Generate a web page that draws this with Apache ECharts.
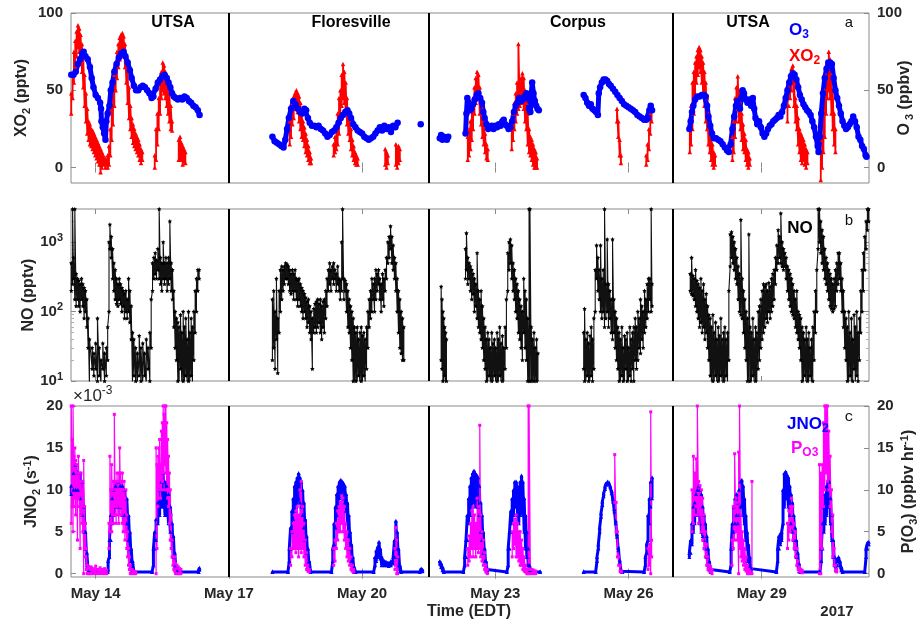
<!DOCTYPE html>
<html><head><meta charset="utf-8">
<script src="https://cdn.jsdelivr.net/npm/echarts@6/dist/echarts.min.js"></script>
<style>html,body{margin:0;padding:0;background:#fff}#c{width:922px;height:633px}</style>
</head><body><div id="c"></div><script>
// ---- axis / category info ----
const tickDays = [14, 17, 20, 23, 26, 29];
const tickLabels = ['May 14', 'May 17', 'May 20', 'May 23', 'May 26', 'May 29'];
const siteBounds = [17, 21.5, 27];
const xTicksA = [0, 50, 100];
const noMajor = [10, 100, 1000];
const noMinor = [20,30,40,50,60,70,80,90,200,300,400,500,600,700,800,900,2000,3000];
const jTicks = [0, 5, 10, 15, 20];

// ---- XO2 (pptv): [day, low, high] ----
const xo2 = [
 [[13.45,35,48],[13.48,45,60],[13.51,55,75],[13.54,65,82],[13.57,72,88],[13.60,78,92],[13.63,75,90],[13.66,70,86],[13.69,62,80],[13.72,52,72],[13.75,40,60],[13.78,30,48],[13.81,22,38],[13.84,18,30],[13.87,15,28],[13.90,14,25],[13.93,12,24],[13.96,10,22],[13.99,8,20],[14.02,6,18],[14.05,4,16],[14.08,2,14],[14.11,-3,12],[14.14,0,10],[14.17,2,8],[14.22,0,6],[14.27,0,8],[14.30,2,14],[14.33,8,25],[14.36,18,38],[14.39,28,50],[14.42,40,60],[14.45,50,68],[14.48,58,75],[14.51,65,80],[14.54,70,84],[14.57,74,86],[14.60,76,87],[14.63,72,85],[14.66,65,80],[14.69,55,72],[14.72,42,62],[14.75,32,52],[14.78,25,40],[14.81,20,32],[14.84,16,28],[14.87,14,25],[14.90,12,22],[14.93,10,20],[14.96,8,18],[14.99,5,15],[15.02,3,12],[15.05,5,10]],
 [[15.33,0,8],[15.36,5,25],[15.39,15,35],[15.42,25,45],[15.45,35,55],[15.48,45,62],[15.51,50,68],[15.54,48,66],[15.57,45,62],[15.60,40,60],[15.63,35,55],[15.66,30,48],[15.69,25,40],[15.72,24,30]],
 [[15.87,5,18],[15.90,6,20],[15.93,5,16],[15.96,2,14],[15.99,4,12],[16.02,3,10]],
 [[18.37,15,30],[18.40,20,38],[18.43,28,42],[18.46,32,46],[18.49,38,48],[18.52,40,50],[18.55,36,48],[18.58,30,46],[18.61,25,42],[18.64,20,36],[18.67,18,30],[18.70,14,26],[18.73,10,22],[18.76,8,18],[18.79,5,14],[18.82,3,10],[18.85,3,6]],
 [[19.36,8,15],[19.39,10,20],[19.42,12,28],[19.45,15,35],[19.48,22,45],[19.51,30,50],[19.54,40,60],[19.57,45,67],[19.60,42,62],[19.63,35,55],[19.66,28,45],[19.69,22,35],[19.72,18,30],[19.75,12,25],[19.78,8,18],[19.81,5,14],[19.84,3,10],[19.87,2,8],[19.90,2,6]],
 [[20.52,2,12],[20.55,0,10],[20.58,3,8]],
 [[20.76,2,15],[20.79,0,12],[20.82,3,14],[20.85,5,12]],
 [[22.38,5,20],[22.41,8,25],[22.44,12,30],[22.47,18,38],[22.50,25,45],[22.53,35,52],[22.56,42,58],[22.59,48,62],[22.62,45,60],[22.65,35,52],[22.68,28,45],[22.71,20,38],[22.74,15,30],[22.77,10,22],[22.80,6,15],[22.83,5,12]],
 [[23.37,12,28],[23.40,18,35],[23.43,25,42],[23.46,30,48],[23.49,35,55],[23.52,38,80],[23.55,40,52],[23.58,42,58],[23.61,45,61],[23.64,38,58],[23.67,30,50],[23.70,25,42],[23.73,15,35],[23.76,10,25],[23.79,8,20],[23.82,5,18],[23.85,2,15],[23.88,0,12],[23.91,0,10],[23.94,0,6]],
 [[25.74,30,38],[25.77,20,30],[25.80,8,18],[25.83,3,8]],
 [[26.40,2,8],[26.43,5,15],[26.46,12,25],[26.49,22,35],[26.52,30,40]],
 [[27.38,10,25],[27.41,15,40],[27.44,25,55],[27.47,35,62],[27.50,45,68],[27.53,55,72],[27.56,60,76],[27.59,65,78],[27.62,62,76],[27.65,55,72],[27.68,48,68],[27.71,40,62],[27.74,30,55],[27.77,25,45],[27.80,15,35],[27.83,10,28],[27.86,5,22],[27.89,2,15],[27.92,0,10],[27.95,2,8]],
 [[28.34,5,20],[28.37,10,30],[28.40,20,45],[28.43,30,52],[28.46,38,59],[28.49,30,50],[28.52,25,42],[28.55,18,35],[28.58,12,28],[28.61,10,22],[28.64,5,18],[28.67,2,12],[28.70,0,10],[28.73,2,6]],
 [[29.58,30,40],[29.61,40,52],[29.64,45,60],[29.67,50,64],[29.70,55,66],[29.73,40,55],[29.76,30,45],[29.79,25,40],[29.82,15,32],[29.85,10,25],[29.88,5,22],[29.91,3,20],[29.94,5,18],[29.97,2,15],[30.00,0,12],[30.03,3,10]],
 [[30.33,-8,10],[30.36,0,18],[30.39,10,35],[30.42,20,50],[30.45,35,60],[30.48,45,68],[30.51,50,75],[30.54,45,70],[30.57,35,60],[30.60,25,50],[30.63,15,35],[30.66,10,25]]
];

// ---- O3 (ppbv): [day, value] ----
const o3 = [
 [[13.45,60],[13.50,60],[13.55,62],[13.60,67],[13.65,70],[13.70,74],[13.73,75],[13.77,72],[13.82,70],[13.87,65],[13.91,58],[13.95,52],[14.00,47],[14.05,45],[14.10,42],[14.12,38],[14.13,30],[14.16,26],[14.19,22],[14.22,18],[14.24,30],[14.27,35],[14.31,40],[14.34,50],[14.38,55],[14.42,62],[14.47,67],[14.52,71],[14.58,74],[14.63,75],[14.67,72],[14.72,68],[14.77,63],[14.81,58],[14.86,53],[14.91,50],[14.96,50],[15.01,52],[15.06,53],[15.11,52],[15.16,50],[15.21,48],[15.26,45],[15.30,46],[15.35,51],[15.40,55],[15.45,57],[15.50,59],[15.55,60],[15.60,58],[15.64,55],[15.68,52],[15.72,48],[15.76,46],[15.80,45],[15.85,44],[15.90,45],[15.95,44],[16.00,46],[16.05,45],[16.10,43],[16.15,42],[16.20,40],[16.25,39],[16.30,37],[16.34,34]],
 [[17.98,20],[18.03,17],[18.08,16],[18.13,15],[18.18,14],[18.23,13],[18.27,18],[18.31,25],[18.35,32],[18.40,38],[18.45,43],[18.50,41],[18.55,38],[18.60,36],[18.65,35],[18.70,38],[18.74,37],[18.78,32],[18.82,29],[18.87,27],[18.92,27],[18.97,26],[19.02,27],[19.07,25],[19.12,24],[19.17,22],[19.22,20],[19.27,21],[19.32,23],[19.37,24],[19.42,26],[19.47,29],[19.52,32],[19.57,34],[19.62,36],[19.67,37],[19.71,35],[19.75,32],[19.80,28],[19.85,26],[19.90,24],[19.95,23],[20.00,22],[20.05,20],[20.10,19],[20.15,18],[20.20,19],[20.25,20],[20.30,22],[20.35,24],[20.40,26],[20.45,24],[20.50,27],[20.55,25],[20.60,26],[20.65,23],[20.70,27],[20.75,26],[20.80,29]],
 [[21.32,28]],
 [[21.75,19],[21.78,21],[21.81,18],[21.84,20],[21.87,19],[21.91,18],[21.94,20]],
 [[22.33,22],[22.35,35],[22.37,45],[22.40,42],[22.43,37],[22.46,38],[22.50,41],[22.54,44],[22.58,47],[22.62,48],[22.66,45],[22.70,42],[22.73,36],[22.76,32],[22.80,28],[22.84,25],[22.88,26],[22.92,27],[22.96,25],[23.00,27],[23.04,26],[23.08,28],[23.12,27],[23.16,30],[23.19,31],[23.22,28],[23.26,27],[23.30,25],[23.34,26],[23.38,30],[23.42,36],[23.46,40],[23.50,42],[23.54,45],[23.58,43],[23.62,44],[23.66,46],[23.70,48],[23.73,45],[23.76,38],[23.79,36],[23.81,48],[23.83,55],[23.86,48],[23.89,43],[23.92,40],[23.95,38],[23.98,37]],
 [[24.99,47],[25.03,45],[25.07,42],[25.11,40],[25.15,41],[25.19,38],[25.23,37],[25.27,36],[25.31,34],[25.33,48],[25.36,52],[25.40,55],[25.44,57],[25.48,57],[25.52,56],[25.56,54],[25.60,53],[25.65,51],[25.70,49],[25.75,47],[25.80,45],[25.85,43],[25.90,41],[25.95,40],[26.00,39],[26.05,38],[26.10,37],[26.15,36],[26.20,34],[26.25,33],[26.30,32],[26.35,31],[26.40,31],[26.44,32],[26.47,37],[26.50,40],[26.53,37]],
 [[27.37,25],[27.40,30],[27.43,36],[27.46,40],[27.50,44],[27.55,46],[27.60,46],[27.65,47],[27.70,47],[27.74,46],[27.77,40],[27.80,33],[27.84,27],[27.88,22],[27.92,19],[27.97,19],[28.02,18],[28.07,17],[28.12,15],[28.17,13],[28.22,11],[28.26,10],[28.30,15],[28.34,25],[28.38,33],[28.42,40],[28.45,43],[28.48,40],[28.51,38],[28.54,45],[28.57,50],[28.60,48],[28.64,44],[28.68,42],[28.72,44],[28.76,40],[28.80,45],[28.83,38],[28.86,32],[28.90,28],[28.94,30],[28.98,26],[29.02,22],[29.06,20],[29.10,22],[29.14,25],[29.18,27],[29.22,28],[29.26,30],[29.30,31],[29.34,32],[29.38,34],[29.42,33],[29.46,36],[29.50,40],[29.54,45],[29.58,50],[29.62,55],[29.66,59],[29.70,61],[29.74,60],[29.78,57],[29.82,52],[29.86,47],[29.90,44],[29.94,41],[29.98,39],[30.02,37],[30.06,36],[30.10,34],[30.14,30],[30.18,26],[30.22,20],[30.26,14],[30.28,10],[30.31,20],[30.34,35],[30.38,48],[30.42,58],[30.46,64],[30.50,68],[30.54,68],[30.58,67],[30.62,58],[30.66,50],[30.70,45],[30.74,40],[30.78,35],[30.82,30],[30.86,27],[30.90,25],[30.94,26],[30.98,28],[31.02,30],[31.06,33],[31.10,30],[31.14,26],[31.18,20],[31.22,18],[31.26,14],[31.30,12],[31.34,8],[31.36,7]]
];

// ---- NO (pptv): [day, low, high] ----
const no = [
 [[13.45,200,500],[13.48,250,3000],[13.50,300,600],[13.53,150,3000],[13.56,120,350],[13.59,150,300],[13.62,120,280],[13.65,100,250],[13.68,150,300],[13.71,120,250],[13.74,80,220],[13.77,100,200],[13.80,60,150],[13.83,30,80],[13.86,8,40],[13.92,15,30],[13.96,12,25],[14.00,15,35],[14.04,10,80],[14.08,12,30],[14.12,8,20],[14.16,15,35],[14.20,10,25],[14.24,12,30],[14.27,20,60],[14.30,100,1000],[14.32,800,1800],[14.35,600,1200],[14.38,300,800],[14.41,200,500],[14.44,150,400],[14.47,130,300],[14.50,120,250],[14.53,150,300],[14.56,130,250],[14.59,100,220],[14.62,120,200],[14.65,80,180],[14.68,100,200],[14.71,80,150],[14.74,100,300],[14.77,70,200],[14.80,40,120],[14.83,8,50],[14.86,12,40],[14.90,10,30],[14.94,8,25],[14.98,12,45],[15.02,10,30],[15.06,8,35],[15.10,12,25],[15.14,8,40],[15.18,15,30],[15.22,10,50],[15.25,30,150],[15.28,200,500],[15.31,300,600],[15.34,350,700],[15.37,300,550],[15.40,400,800],[15.43,300,3000],[15.46,250,600],[15.49,200,500],[15.52,300,1000],[15.55,250,500],[15.58,300,600],[15.61,200,500],[15.64,250,600],[15.67,300,2000],[15.70,200,500],[15.73,150,400],[15.76,60,200],[15.79,30,100],[15.82,20,80],[15.85,10,70],[15.88,8,60],[15.91,15,90],[15.94,8,50],[15.97,10,100],[16.00,8,60],[16.03,12,80],[16.06,8,40],[16.09,10,100],[16.12,8,50],[16.15,12,80],[16.18,8,60],[16.21,20,100],[16.24,50,200],[16.27,100,300],[16.30,200,400],[16.33,300,400]],
 [[17.98,20,150],[18.01,30,200],[18.04,15,100],[18.07,40,300],[18.10,13,80],[18.13,50,200],[18.16,100,400],[18.19,150,450],[18.22,200,400],[18.25,250,450],[18.28,300,500],[18.31,300,480],[18.34,250,450],[18.37,200,400],[18.40,180,350],[18.43,200,400],[18.46,150,350],[18.49,200,400],[18.52,150,300],[18.55,120,280],[18.58,150,300],[18.61,120,250],[18.64,100,220],[18.67,80,200],[18.70,100,180],[18.73,80,160],[18.76,60,140],[18.79,70,150],[18.82,50,120],[18.85,40,100],[18.88,15,80],[18.91,50,110],[18.94,60,130],[18.97,50,140],[19.00,60,150],[19.03,70,130],[19.06,50,150],[19.09,40,120],[19.12,60,140],[19.15,50,150],[19.18,80,200],[19.21,120,300],[19.24,200,400],[19.27,250,500],[19.30,200,400],[19.33,300,450],[19.36,250,500],[19.39,300,400],[19.42,200,350],[19.45,250,450],[19.48,200,300],[19.51,150,280],[19.54,200,1000],[19.56,300,3000],[19.59,150,300],[19.62,200,280],[19.65,100,250],[19.68,60,200],[19.71,50,150],[19.74,30,120],[19.77,20,100],[19.80,10,80],[19.83,8,60],[19.86,10,50],[19.89,8,60],[19.92,12,40],[19.95,8,50],[19.98,10,60],[20.01,8,45],[20.04,12,50],[20.07,8,40],[20.10,15,60],[20.13,30,100],[20.16,60,150],[20.19,80,200],[20.22,100,300],[20.25,150,250],[20.28,100,300],[20.31,150,400],[20.34,200,350],[20.37,250,400],[20.40,150,300],[20.43,100,250],[20.46,150,350],[20.49,120,300],[20.52,200,400],[20.55,300,600],[20.58,500,1000],[20.61,600,1200],[20.64,800,1700],[20.67,500,1200],[20.70,400,900],[20.73,300,600],[20.76,200,500],[20.79,100,300],[20.82,50,200],[20.85,30,150],[20.88,25,100],[20.91,20,80],[20.94,20,60]],
 [[21.78,20,230],[21.80,15,150],[21.82,10,100],[21.84,8,80],[21.86,12,60],[21.88,8,50],[21.90,10,40]],
 [[22.33,300,800],[22.35,400,1350],[22.38,250,600],[22.41,300,500],[22.44,200,450],[22.47,150,400],[22.50,180,350],[22.53,100,300],[22.56,120,250],[22.59,80,700],[22.62,60,200],[22.65,50,150],[22.68,40,200],[22.71,30,120],[22.74,20,80],[22.77,15,60],[22.80,10,40],[22.83,8,50],[22.86,12,40],[22.89,8,30],[22.92,10,50],[22.95,8,35],[22.98,12,40],[23.01,8,30],[23.04,10,50],[23.07,8,40],[23.10,12,60],[23.13,8,35],[23.16,10,45],[23.19,8,30],[23.22,15,60],[23.25,30,150],[23.28,200,700],[23.31,400,1000],[23.34,500,1100],[23.37,300,900],[23.40,200,500],[23.43,150,400],[23.46,100,300],[23.49,80,250],[23.52,50,200],[23.55,40,150],[23.58,30,120],[23.61,20,100],[23.64,50,300],[23.67,30,200],[23.70,20,150],[23.73,10,80],[23.76,8,3000],[23.78,10,3000],[23.81,10,60],[23.84,8,40],[23.87,10,50],[23.90,8,30],[23.93,10,40],[23.96,8,25]],
 [[24.99,15,50],[25.01,10,110],[25.04,8,40],[25.07,12,50],[25.10,10,35],[25.13,8,45],[25.16,12,60],[25.19,10,40],[25.22,15,80],[25.25,100,400],[25.28,300,900],[25.31,200,600],[25.34,150,400],[25.37,100,900],[25.40,80,300],[25.43,100,400],[25.46,60,3000],[25.49,80,250],[25.52,100,1100],[25.55,60,250],[25.58,80,200],[25.61,50,150],[25.64,40,1100],[25.67,50,150],[25.70,30,100],[25.73,20,80],[25.76,15,60],[25.79,10,50],[25.82,8,40],[25.85,12,60],[25.88,10,30],[25.91,8,45],[25.94,15,40],[25.97,10,50],[26.00,8,30],[26.03,12,60],[26.06,10,40],[26.09,15,50],[26.12,10,60],[26.15,20,80],[26.18,15,60],[26.21,20,100],[26.24,30,80],[26.27,25,150],[26.30,40,120],[26.33,30,100],[26.36,50,200],[26.39,60,150],[26.42,80,250],[26.45,100,300],[26.48,150,300],[26.51,100,3000],[26.53,120,250]],
 [[27.39,200,350],[27.42,180,600],[27.45,170,330],[27.48,150,300],[27.51,120,400],[27.54,100,280],[27.57,80,250],[27.60,60,220],[27.63,70,300],[27.66,50,200],[27.69,60,250],[27.72,40,150],[27.75,50,180],[27.78,30,120],[27.81,20,90],[27.84,12,80],[27.87,8,60],[27.90,10,90],[27.93,8,50],[27.96,12,70],[27.99,8,40],[28.02,10,60],[28.05,8,45],[28.08,12,80],[28.11,8,40],[28.14,10,50],[28.17,8,60],[28.20,12,40],[28.23,8,50],[28.26,20,200],[28.29,450,1300],[28.32,600,1400],[28.35,500,1200],[28.38,400,1000],[28.41,300,800],[28.44,250,600],[28.47,150,450],[28.50,100,350],[28.53,90,2100],[28.56,80,300],[28.59,50,200],[28.62,30,150],[28.65,20,100],[28.68,10,80],[28.71,8,1300],[28.74,10,60],[28.77,8,50],[28.80,12,80],[28.83,8,40],[28.86,10,60],[28.89,8,50],[28.92,15,100],[28.95,20,120],[28.98,30,150],[29.01,40,200],[29.04,50,250],[29.07,60,230],[29.10,80,250],[29.13,70,200],[29.16,100,260],[29.19,80,230],[29.22,100,300],[29.25,120,350],[29.28,150,400],[29.31,250,600],[29.34,400,900],[29.37,500,1500],[29.40,600,1200],[29.43,500,2600],[29.46,450,1000],[29.49,400,800],[29.52,450,700],[29.55,300,600],[29.58,200,450],[29.61,150,400],[29.64,120,350],[29.67,100,300],[29.70,90,250],[29.73,80,200],[29.76,60,150],[29.79,50,200],[29.82,40,100],[29.85,30,90],[29.88,20,80],[29.91,10,60],[29.94,8,50],[29.97,12,40],[30.00,8,60],[30.03,10,40],[30.06,8,50],[30.09,12,30],[30.12,8,40],[30.15,10,60],[30.18,20,100],[30.21,50,200],[30.24,100,400],[30.27,800,3000],[30.30,1000,3000],[30.33,700,2000],[30.36,500,1500],[30.39,400,1200],[30.42,300,800],[30.45,250,600],[30.48,200,500],[30.51,150,400],[30.54,120,350],[30.57,110,300],[30.60,100,250],[30.63,110,300],[30.66,120,400],[30.69,200,500],[30.72,250,700],[30.75,300,700],[30.78,200,500],[30.81,100,300],[30.84,60,200],[30.87,30,100],[30.90,20,80],[30.93,10,60],[30.96,8,100],[30.99,12,50],[31.02,8,80],[31.05,10,40],[31.08,15,90],[31.11,8,60],[31.14,12,100],[31.17,10,50],[31.20,20,80],[31.23,50,200],[31.26,100,400],[31.29,200,700],[31.32,400,1200],[31.35,800,2000],[31.38,1500,3000],[31.41,2000,3000]]
];

// ---- JNO2 (x1e-3 s-1): [day, low, high] ----
const jno2 = [
 [[13.45,9.5,10.5],[13.50,10,12],[13.55,10,13],[13.60,10,12],[13.65,9,12],[13.70,7,11],[13.74,5,8],[13.77,3,5],[13.80,1,2.5],[13.83,0.3,1],[13.86,0.2,0.3],[14.27,0.2,0.3],[14.28,0.5,1.5],[14.31,2,4],[14.34,4,7],[14.37,6,9],[14.40,7,10],[14.45,8,10.5],[14.50,8,11],[14.55,8,10.5],[14.60,7,10.5],[14.65,7,10],[14.70,6,9],[14.74,4,7],[14.77,3,5],[14.80,1.5,3],[14.83,0.5,1.5],[14.86,0.2,0.3],[15.27,0.2,0.3],[15.30,1,3],[15.33,3,5],[15.36,4,6.5],[15.40,6,8.5],[15.44,7,10],[15.48,8,11],[15.52,8,12],[15.56,7,11],[15.60,7,10.5],[15.64,6,9.5],[15.68,5,8],[15.72,4,6],[15.75,2,4.5],[15.78,1,2.5],[15.81,0.3,1],[15.84,0.2,0.3],[16.32,0.2,0.5],[16.34,0.5,0.7]],
 [[17.98,0.2,0.3],[18.33,0.2,0.3],[18.36,1.5,3],[18.39,3,5.5],[18.42,5,7.5],[18.45,6.5,9],[18.48,7.5,10.5],[18.51,8,11],[18.54,8.5,11.5],[18.57,9,12],[18.60,8.5,11.5],[18.63,8,11],[18.66,7,10],[18.69,5.5,8.5],[18.72,4,6.5],[18.75,2.5,4.5],[18.78,1.2,3],[18.81,0.4,1.5],[18.84,0.2,0.4],[19.31,0.2,0.3],[19.34,1.5,3],[19.37,3.5,6],[19.40,5.5,8],[19.43,7,9.5],[19.46,8,10.5],[19.49,9,11],[19.52,9.5,11.2],[19.55,9.5,11],[19.58,9,10.8],[19.61,8.5,10.5],[19.64,7.5,9.5],[19.67,6,8.5],[19.70,4.5,7],[19.73,3,5],[19.76,1.5,3.5],[19.79,0.5,2],[19.82,0.2,0.8],[19.85,0.2,0.3],[20.26,0.2,0.3],[20.29,1,2],[20.32,1.5,2.8],[20.35,2,3.2],[20.38,2.5,3.8],[20.41,1.8,3],[20.44,1,2],[20.47,1.2,1.6],[20.50,1,1.5],[20.55,1,1.4],[20.60,0.9,1.3],[20.65,1,1.5],[20.70,1.2,2],[20.73,2,4],[20.76,3,6.3],[20.79,2,5],[20.82,1,3],[20.85,0.3,1],[20.88,0.2,0.3],[21.30,0.2,0.3],[21.33,0.4,0.6],[21.36,0.3,0.5]],
 [[21.75,1.2,1.5],[21.78,0.8,1.2],[21.81,0.4,0.8],[21.84,0.2,0.3],[22.28,0.2,0.3],[22.31,1,2],[22.34,2,4],[22.37,4,7],[22.40,6,9],[22.43,7,10.5],[22.46,8,11.5],[22.49,8.5,12],[22.52,9,12.3],[22.55,8,12],[22.58,9,11.8],[22.61,8,11.5],[22.64,7,10.5],[22.67,5,8.5],[22.70,4,7],[22.73,2.5,5],[22.76,1.5,3],[22.79,0.5,1.5],[22.82,0.2,0.5],[23.26,0.2,0.3],[23.29,1,3],[23.32,3,5],[23.35,5,7.5],[23.38,6,9],[23.41,7,10],[23.44,8,11],[23.47,8,11],[23.50,7,10.5],[23.53,6,10],[23.56,7,11],[23.59,8,11.7],[23.62,7,11],[23.65,5,9],[23.68,3,7],[23.71,2,5],[23.74,1,3],[23.77,0.3,1],[23.80,0.2,0.3],[24.01,0.2,0.3]],
 [[24.99,0.2,0.3],[25.26,0.2,0.3],[25.29,1.5,2],[25.32,3,3.5],[25.35,5,5.5],[25.38,6.8,7.2],[25.41,8.2,8.6],[25.44,9.3,9.6],[25.47,10.1,10.4],[25.50,10.6,10.8],[25.53,10.8,11],[25.56,10.7,10.9],[25.59,10.3,10.5],[25.62,9.6,9.9],[25.65,8.6,8.9],[25.68,7.4,7.7],[25.71,6,6.3],[25.74,4.4,4.7],[25.77,2.8,3.1],[25.80,1.3,1.6],[25.83,0.3,0.5],[25.86,0.2,0.3],[26.35,0.2,0.3],[26.38,1,2],[26.41,2.5,3.5],[26.44,4,7],[26.47,6,9],[26.50,8,11],[26.53,9,11.5]],
 [[27.37,2,2.5],[27.40,2.5,4],[27.43,3.5,6],[27.46,5,8],[27.49,6,8.5],[27.52,7,9.5],[27.55,7,10],[27.58,7,10.5],[27.61,6,10],[27.64,5,9.5],[27.67,4.5,8],[27.70,4,7],[27.73,3,6],[27.76,2,4.5],[27.79,1,3],[27.82,0.5,1.5],[27.85,0.2,0.5],[28.28,0.2,0.3],[28.31,1,3],[28.34,3,6],[28.37,5,8],[28.40,6,9],[28.43,7,9.5],[28.46,6,8.5],[28.49,7,10],[28.52,8,11],[28.55,8,11.2],[28.58,7,10.5],[28.61,6,9],[28.64,4,7],[28.67,3,5],[28.70,1.5,3.5],[28.73,0.5,2],[28.76,0.2,0.6],[29.33,0.2,0.3],[29.36,1.5,3],[29.39,3,4.5],[29.42,3.5,4.8],[29.45,4,5],[29.48,6,10],[29.51,8,12],[29.54,9,12.2],[29.57,9,11.8],[29.60,8,11.5],[29.63,7,10.5],[29.66,6,9.5],[29.69,5,8.5],[29.72,4,7],[29.75,3,5.5],[29.78,2,4],[29.81,1,2.5],[29.84,0.3,1.2],[29.87,0.2,0.4],[30.31,0.2,0.3],[30.34,1.5,3],[30.37,3,6],[30.40,5,8],[30.43,6,9.5],[30.46,7,10.5],[30.49,8,11],[30.52,8,11],[30.55,6,9],[30.58,4,7],[30.61,2,4],[30.64,1,2],[30.67,0.5,1.2],[30.70,1,1.8],[30.73,1.5,2],[30.76,1,1.5],[30.79,0.4,0.8],[30.82,0.2,0.3],[31.32,0.2,0.3],[31.35,2,3],[31.38,3,3.6],[31.41,3.5,3.8]]
];

// ---- P(O3) (ppbv hr-1): [day, low, high] ----
const po3 = [
 [[13.45,6,20],[13.47,8,16],[13.49,5,20],[13.51,8,14],[13.53,9,15],[13.55,7,13.5],[13.57,9,13],[13.59,4,12],[13.61,9,14],[13.63,8,12],[13.65,3,11],[13.67,7,12],[13.69,6,10],[13.71,5,11],[13.73,0,13.5],[13.75,3,8],[13.77,2,6],[13.79,0.5,3],[13.81,0,1],[13.84,0,0.8],[13.87,0,0.5],[13.90,0,0.8],[13.95,0,0.6],[14.00,0,0.9],[14.05,0,0.5],[14.10,0,0.7],[14.15,0,0.5],[14.20,0,0.6],[14.25,0,0.4]],
 [[14.30,3,6],[14.32,5,14],[14.34,6,10],[14.36,5,13],[14.38,7,10],[14.40,6,11],[14.42,8,19],[14.44,7,11],[14.46,6,10],[14.48,8,12],[14.50,7,11],[14.52,6,12],[14.54,7,15],[14.56,8,12],[14.58,7,11],[14.60,6,12],[14.62,5,10],[14.64,6,11],[14.66,4,9],[14.68,5,10],[14.70,3,7],[14.72,2,5],[14.74,1,3],[14.76,0.5,2],[14.78,0,1],[14.82,0,0.5],[14.86,0,0.3],[14.90,0,0.2]],
 [[15.36,0,15],[15.38,3,13],[15.40,8,14],[15.42,9,15],[15.44,10,16],[15.46,9,13],[15.48,10,17],[15.50,11,18],[15.52,12,20],[15.54,10,19],[15.56,13,20],[15.58,12,20],[15.60,10,18],[15.62,9,16],[15.64,8,14],[15.66,6,12],[15.68,4,10],[15.70,3,7],[15.72,2,4],[15.74,1,2],[15.76,0.5,1.5],[15.78,0.3,2],[15.80,0,1.2],[15.83,0,1],[15.86,0,0.8],[15.89,0,0.6],[15.92,0,0.5]],
 [[18.39,1,3],[18.42,2,5],[18.45,3,6],[18.48,3,7],[18.51,2.5,7.5],[18.54,3,8],[18.57,2,7],[18.60,3,10],[18.63,2.5,11],[18.66,3,8],[18.69,2,6],[18.72,1,4],[18.75,0.5,2.5],[18.78,0.3,1],[18.81,0.2,0.5]],
 [[19.36,1,3],[19.39,1.5,4],[19.42,3,6],[19.45,4,7.5],[19.48,5,8],[19.51,5,8.5],[19.54,6,9.3],[19.57,5,9],[19.60,4,8],[19.63,3,6],[19.66,2,5],[19.69,1.5,4],[19.72,1,3],[19.75,0.5,2],[19.78,0.3,1],[19.81,0.2,0.5]],
 [[20.74,0.5,3],[20.76,1,5.5],[20.78,0,4],[20.80,0,2]],
 [[22.38,1,3],[22.41,1.5,4.5],[22.44,2,6],[22.47,3,7.5],[22.50,2,8],[22.53,3,7],[22.56,2,6],[22.59,3,9],[22.62,2.5,8],[22.65,3,17.7],[22.67,2,7],[22.70,1.5,5],[22.73,1,4],[22.76,0.5,2.5],[22.79,0.2,1],[22.82,0,0.5]],
 [[23.38,2,5],[23.41,3,6],[23.44,3.5,6.5],[23.47,2,7],[23.50,2,6],[23.53,1.5,5],[23.56,1,5],[23.59,1,4],[23.62,0.5,3],[23.65,0.3,2],[23.68,0.2,1],[23.71,0,0.5],[23.74,0,20],[23.76,0,20],[23.79,0,0.5],[23.83,0,0.5],[23.87,0,0.4],[23.91,0,0.3]],
 [[25.69,8.5,14.2],[25.72,5,8.5],[25.75,2,5],[25.78,1,2],[25.81,0.3,1],[25.84,0.2,0.3]],
 [[26.44,0.5,3],[26.47,1,3.5],[26.50,0,19.3],[26.52,2,4]],
 [[27.43,5,10],[27.46,6,14],[27.49,7,12],[27.52,8,13.7],[27.55,7,20],[27.58,6,11],[27.61,7,10.5],[27.64,5,10],[27.67,4,9],[27.70,3,7],[27.73,2,5],[27.76,1,3.5],[27.79,0.5,2],[27.82,0.3,1],[27.85,0.2,0.8],[27.88,0,0.5]],
 [[28.33,1,4],[28.36,3,8],[28.39,4,14.3],[28.42,5,9],[28.45,4,8.5],[28.48,0,14.5],[28.50,3,20],[28.53,2,7],[28.56,1.5,5],[28.59,1,4],[28.62,0.5,3],[28.65,0.3,2],[28.68,0,1],[28.71,0,0.5],[28.74,0,0.3],[28.78,0,11]],
 [[29.58,3,6],[29.61,4,7.5],[29.64,5,8],[29.67,5.5,9],[29.70,4,8],[29.73,3,6],[29.76,2,5],[29.79,1,3],[29.82,0.5,1.5],[29.85,0.3,0.8],[29.88,0.2,0.5],[29.91,0.1,0.4]],
 [[30.30,0,13],[30.33,0,12],[30.36,3,13],[30.39,8,18],[30.42,10,20],[30.45,12,20],[30.48,11,20],[30.51,10,17],[30.54,8,14],[30.57,5,10],[30.60,2,7],[30.63,1,3],[30.66,0.3,1],[30.69,0.2,0.5]]
];

// ---------- build ----------
const FONT = '"Liberation Sans", Arial, Helvetica, sans-serif';
const TXT = '#262626';
const X_MIN = 13.444, X_MAX = 31.416;

function expand(segs) {
  const out = [];
  segs.forEach((seg, i) => {
    if (i > 0) out.push(['-', '-']);
    seg.forEach(r => {
      out.push([r[0], r[1]]);
      if (r.length > 2) out.push([r[0], r[2]]);
    });
  });
  return out;
}

const grids = [
  {left: 71, top: 13, width: 798, height: 170},
  {left: 71, top: 209, width: 798, height: 172},
  {left: 71, top: 406, width: 798, height: 171}
].map(g => Object.assign(g, {show: true, borderColor: '#8a8a8a', borderWidth: 1, backgroundColor: 'transparent', containLabel: false, outerBoundsMode: 'none'}));

const xAxes = [];
for (let g = 0; g < 3; g++) {
  ['bottom', 'top'].forEach(pos => {
    xAxes.push({
      type: 'value', gridIndex: g, position: pos, min: X_MIN, max: X_MAX,
      axisLine: {show: false},
      splitLine: {show: false},
      axisTick: {show: true, inside: true, length: 5, customValues: tickDays, lineStyle: {color: '#8a8a8a'}},
      axisLabel: {
        show: g === 2 && pos === 'bottom', customValues: tickDays, margin: 9,
        fontFamily: FONT, fontWeight: 'bold', fontSize: 15, color: TXT,
        formatter: v => tickLabels[tickDays.indexOf(Math.round(v))] || ''
      }
    });
  });
}

const sub = {fontFamily: FONT, fontWeight: 'bold', fontSize: 11, color: TXT, padding: [9, 0, 0, 0]};
const sup = {fontFamily: FONT, fontWeight: 'bold', fontSize: 11, color: TXT, padding: [0, 0, 9, 0]};
const nrm = {fontFamily: FONT, fontWeight: 'bold', fontSize: 16, color: TXT};
const nameStyle = {rich: {n: nrm, s: sub, p: sup}};

function yAx(o) {
  return Object.assign({
    axisLine: {show: false}, splitLine: {show: false},
    nameLocation: 'middle', nameRotate: 90, nameTextStyle: nameStyle,
    nameMoveOverlap: false
  }, o);
}
const lblStyle = {fontFamily: FONT, fontWeight: 'bold', fontSize: 15, color: TXT, margin: 8};
const tickStyle = {show: true, inside: true, length: 5, lineStyle: {color: '#8a8a8a'}};

const yAxes = [
  yAx({type: 'value', gridIndex: 0, position: 'left', min: -10, max: 100,
       name: '{n|XO}{s|2}{n| (pptv)}', nameGap: 39,
       axisTick: Object.assign({customValues: xTicksA}, tickStyle),
       axisLabel: Object.assign({customValues: xTicksA}, lblStyle)}),
  yAx({type: 'value', gridIndex: 0, position: 'right', min: -10, max: 100,
       name: '{n|O}{s| 3}{n| (ppbv)}', nameGap: 26,
       axisTick: Object.assign({customValues: xTicksA}, tickStyle),
       axisLabel: Object.assign({customValues: xTicksA}, lblStyle)}),
  yAx({type: 'log', gridIndex: 1, position: 'left', min: 10, max: 3000, logBase: 10,
       name: '{n|NO (pptv)}', nameGap: 34,
       axisTick: Object.assign({customValues: noMajor}, tickStyle),
       axisLabel: Object.assign({customValues: noMajor,
         formatter: v => '{b|10}{p|' + Math.round(Math.log10(v)) + '}',
         rich: {b: {fontFamily: FONT, fontWeight: 'bold', fontSize: 15, color: TXT}, p: sup}}, lblStyle)}),
  yAx({type: 'log', gridIndex: 1, position: 'right', min: 10, max: 3000, logBase: 10,
       axisTick: Object.assign({customValues: noMajor}, tickStyle),
       axisLabel: {show: false}}),
  yAx({type: 'log', gridIndex: 1, position: 'left', min: 10, max: 3000, logBase: 10,
       axisTick: {show: true, inside: true, length: 3, customValues: noMinor, lineStyle: {color: '#b0b0b0'}},
       axisLabel: {show: false}}),
  yAx({type: 'log', gridIndex: 1, position: 'right', min: 10, max: 3000, logBase: 10,
       axisTick: {show: true, inside: true, length: 3, customValues: noMinor, lineStyle: {color: '#b0b0b0'}},
       axisLabel: {show: false}}),
  yAx({type: 'value', gridIndex: 2, position: 'left', min: -0.4, max: 20,
       name: '{n|JNO}{s|2}{n| (s}{p|-1}{n|)}', nameGap: 29,
       axisTick: Object.assign({customValues: jTicks}, tickStyle),
       axisLabel: Object.assign({customValues: jTicks}, lblStyle)}),
  yAx({type: 'value', gridIndex: 2, position: 'right', min: -0.4, max: 20,
       name: '{n|P(O}{s|3}{n|) (ppbv hr}{p|-1}{n|)}', nameGap: 30,
       axisTick: Object.assign({customValues: jTicks}, tickStyle),
       axisLabel: Object.assign({customValues: jTicks}, lblStyle)})
];

const sepLine = {
  silent: true, symbol: ['none', 'none'], label: {show: false}, animation: false,
  lineStyle: {color: '#000', width: 2, type: 'solid'},
  emphasis: {disabled: true},
  data: siteBounds.map(d => ({xAxis: d}))
};
const starPath = 'path://M0,-10L2.9,-4L9.5,-3.1L4.7,1.5L5.9,8.1L0,5L-5.9,8.1L-4.7,1.5L-9.5,-3.1L-2.9,-4Z';

function ser(o) {
  return Object.assign({
    type: 'line', showSymbol: true, connectNulls: false, animation: false,
    silent: true, clip: true, emphasis: {disabled: true}
  }, o);
}

const series = [
  ser({name: 'XO2', xAxisIndex: 0, yAxisIndex: 0, data: expand(xo2),
       symbol: 'triangle', symbolSize: 4.5,
       itemStyle: {color: '#ff0000'}, lineStyle: {color: '#ff0000', width: 1.8},
       markLine: sepLine}),
  ser({name: 'O3', xAxisIndex: 0, yAxisIndex: 1, data: expand(o3),
       symbol: 'circle', symbolSize: 6.5,
       itemStyle: {color: '#0000ff'}, lineStyle: {color: '#0000ff', width: 5}}),
  ser({name: 'NO', xAxisIndex: 2, yAxisIndex: 2, data: expand(no),
       symbol: starPath, symbolSize: 4.5,
       itemStyle: {color: '#000'}, lineStyle: {color: '#111', width: 1.1},
       markLine: sepLine}),
  ser({name: 'JNO2', xAxisIndex: 4, yAxisIndex: 6, data: expand(jno2),
       symbol: 'triangle', symbolSize: 4,
       itemStyle: {color: '#0000ff'}, lineStyle: {color: '#0000ff', width: 3},
       markLine: sepLine}),
  ser({name: 'PO3', xAxisIndex: 4, yAxisIndex: 7, data: expand(po3),
       symbol: 'rect', symbolSize: 3,
       itemStyle: {color: '#ff00ff'}, lineStyle: {color: '#ff00ff', width: 1.2}})
];

function txt(x, y, text, rich, extra) {
  return Object.assign({type: 'text', x: x, y: y, silent: true, z: 100,
    style: Object.assign({text: text, rich: rich || {}, fontFamily: FONT, fontWeight: 'bold', fontSize: 15, fill: TXT, align: 'center', verticalAlign: 'middle'}, extra || {})});
}
const bigB = (c) => ({fontFamily: FONT, fontWeight: 'bold', fontSize: 17, fill: c, color: c});
const subB = (c) => ({fontFamily: FONT, fontWeight: 'bold', fontSize: 12, fill: c, color: c, padding: [10, 0, 0, 0]});
const letter = {fontFamily: '"Liberation Mono", "DejaVu Sans Mono", monospace', fontWeight: 'normal', fontSize: 15, fill: '#111'};

const graphics = [
  txt(173, 23, 'UTSA', null, {fontSize: 16, fill: '#000'}),
  txt(351, 23, 'Floresville', null, {fontSize: 16, fill: '#000'}),
  txt(578, 23, 'Corpus', null, {fontSize: 16, fill: '#000'}),
  txt(748, 23, 'UTSA', null, {fontSize: 16, fill: '#000'}),
  txt(789, 30, '{a|O}{b|3}', {a: bigB('#0000ff'), b: subB('#0000ff')}, {align: 'left'}),
  txt(789, 56, '{a|XO}{b|2}', {a: bigB('#ff0000'), b: subB('#ff0000')}, {align: 'left'}),
  txt(849, 23, 'a', null, letter),
  txt(800, 228, 'NO', null, {fontSize: 17, fill: '#000'}),
  txt(849, 221, 'b', null, letter),
  txt(849, 417, 'c', null, letter),
  txt(787, 424, '{a|JNO}{b|2}', {a: bigB('#0000ff'), b: subB('#0000ff')}, {align: 'left'}),
  txt(791, 448, '{a|P}{b|O3}', {a: bigB('#ff00ff'), b: subB('#ff00ff')}, {align: 'left'}),
  txt(73, 396, '{a|\u00d710}{b|-3}', {a: {fontFamily: FONT, fontSize: 17, fill: TXT}, b: {fontFamily: FONT, fontSize: 12, fill: TXT, padding: [0, 0, 10, 0]}}, {align: 'left', fontWeight: 'normal'}),
  txt(469, 612, 'Time (EDT)', null, {fontSize: 16, fill: TXT}),
  txt(837, 612, '2017', null, {fontSize: 15, fill: TXT})
];

const chart = echarts.init(document.getElementById('c'), null, {renderer: 'canvas'});
chart.setOption({
  animation: false,
  backgroundColor: '#fff',
  grid: grids,
  xAxis: xAxes,
  yAxis: yAxes,
  series: series,
  graphic: graphics
});
</script></body></html>
